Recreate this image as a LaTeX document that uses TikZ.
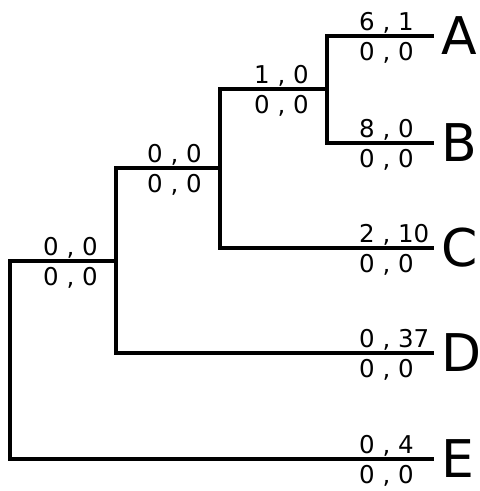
\documentclass[tikz,border=0pt]{standalone}
\usepackage{fontspec}
\setmainfont{DejaVu Sans}
\begin{document}
\begin{tikzpicture}[x=1pt,y=-1pt,
  branch/.style={line width=3.5pt,line join=miter,line cap=rect},
  lab/.style={font=\fontsize{24.5}{24.5}\selectfont,inner sep=0pt,anchor=base west},
  leaf/.style={font=\fontsize{52}{52}\selectfont,inner sep=0pt,anchor=west}]
\useasboundingbox (0,0) rectangle (480,491);
% junctions
\coordinate (R)  at (10,261);
\coordinate (N1) at (116,261);
\coordinate (N2) at (220,168);
\coordinate (N3) at (327,89);
% leaf ends
\coordinate (LA) at (432,36);
\coordinate (LB) at (432,143);
\coordinate (LC) at (432,248);
\coordinate (LD) at (432,353);
\coordinate (LE) at (432,459);
% branches
\draw[branch] (N1) -- (R) |- (LE);
\draw[branch] (N2) -| (N1) |- (LD);
\draw[branch] (N3) -| (N2) |- (LC);
\draw[branch] (LA) -| (N3) |- (LB);
% leaf names
\node[leaf] (A) at (441,36) {A};
\node[leaf] (B) at (441,143) {B};
\node[leaf] (C) at (441,248) {C};
\node[leaf] (D) at (441,353) {D};
\node[leaf] (E) at (441,459) {E};
% labels
\node[lab] (uN1) at (43,255.5) {0 , 0};
\node[lab] (dN1) at (43,285.5) {0 , 0};
\node[lab] (uN2) at (147,162.5) {0 , 0};
\node[lab] (dN2) at (147,192.5) {0 , 0};
\node[lab] (uN3) at (254,83.5) {1 , 0};
\node[lab] (dN3) at (254,113.5) {0 , 0};
\node[lab] (uA) at (359,30.5) {6 , 1};
\node[lab] (dA) at (359,60.5) {0 , 0};
\node[lab] (uB) at (359,137.5) {8 , 0};
\node[lab] (dB) at (359,167.5) {0 , 0};
\node[lab] (uC) at (359,242.5) {2 , 10};
\node[lab] (dC) at (359,272.5) {0 , 0};
\node[lab] (uD) at (359,347.5) {0 , 37};
\node[lab] (dD) at (359,377.5) {0 , 0};
\node[lab] (uE) at (359,453.5) {0 , 4};
\node[lab] (dE) at (359,483.5) {0 , 0};
\end{tikzpicture}
\end{document}
